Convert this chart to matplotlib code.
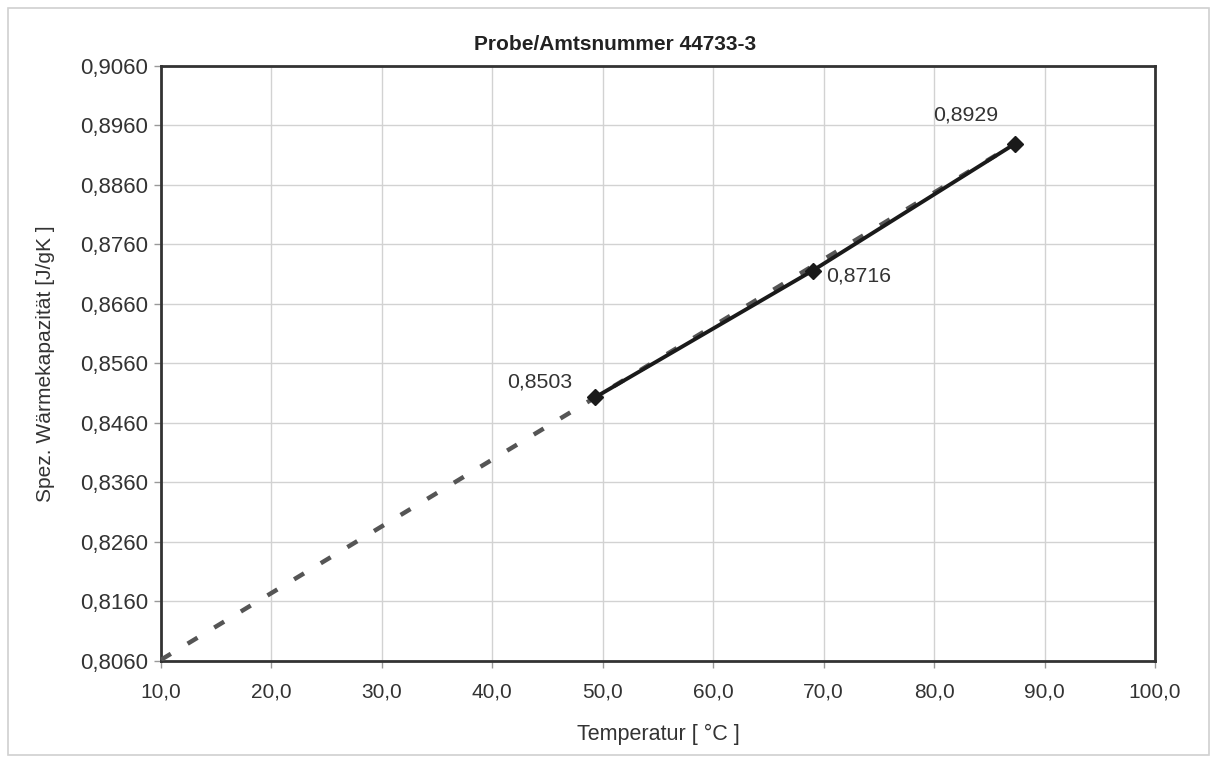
import numpy as np
import matplotlib.pyplot as plt
from matplotlib.patches import Rectangle
from matplotlib.ticker import FuncFormatter

plt.rcParams['font.family'] = ['Liberation Sans', 'DejaVu Sans']

# measured points (temperature, spec. heat capacity)
temp = [49.3, 69.0, 87.3]
cp = [0.8503, 0.8716, 0.8929]
labels = ["0,8503", "0,8716", "0,8929"]
label_offsets = [(-40, 11), (33, -4), (-35, 21)]  # points

# linear trend line
trend_x = [10.0, 87.3]
trend_y = [0.8062, 0.8929]

xticks = [10, 20, 30, 40, 50, 60, 70, 80, 90, 100]
yticks = [0.806, 0.816, 0.826, 0.836, 0.846, 0.856, 0.866, 0.876, 0.886, 0.896, 0.906]

fig = plt.figure(figsize=(12.14, 7.6), dpi=100)
fig.patches.append(Rectangle((0.007, 0.007), 0.989, 0.983, transform=fig.transFigure,
                             fill=False, edgecolor='#d0d0d0', lw=1.2))
ax = fig.add_axes([0.1326, 0.1303, 0.8188, 0.7829])

ax.plot(trend_x, trend_y, color='#555555', lw=3.2, dashes=(2.6, 4.4), zorder=3)
ax.plot(temp, cp, color='#1a1a1a', lw=2.8, marker='D', ms=8, zorder=4)

for x, y, t, off in zip(temp, cp, labels, label_offsets):
    ax.annotate(t, (x, y), xytext=off, textcoords='offset points',
                ha='center', va='center', fontsize=15.3, color='#333333')

ax.set_xlim(10, 100)
ax.set_ylim(0.806, 0.906)
ax.set_xticks(xticks)
ax.set_yticks(yticks)
ax.xaxis.set_major_formatter(FuncFormatter(lambda v, p: f"{v:.1f}".replace('.', ',')))
ax.yaxis.set_major_formatter(FuncFormatter(lambda v, p: f"{v:.4f}".replace('.', ',')))

ax.grid(True, color='#d2d2d2', lw=1)
ax.set_axisbelow(True)
for s in ax.spines.values():
    s.set_color('#333333')
    s.set_linewidth(2)
ax.tick_params(direction='out', length=5, width=1, color='#999999',
               labelcolor='#333333', pad=4)
ax.tick_params(axis='x', labelsize=15, pad=10.5)
ax.tick_params(axis='y', labelsize=16)

fig.text(0.5066, 0.942, 'Probe/Amtsnummer 44733-3', fontsize=15, fontweight='bold',
         color='#222222', ha='center', va='center')
ax.set_xlabel('Temperatur [ °C ]', fontsize=15.5, color='#333333', labelpad=16)
ax.set_ylabel('Spez. Wärmekapazität [J/gK ]', fontsize=15.1, color='#333333', labelpad=18)

fig.savefig('out.png', dpi=100)
